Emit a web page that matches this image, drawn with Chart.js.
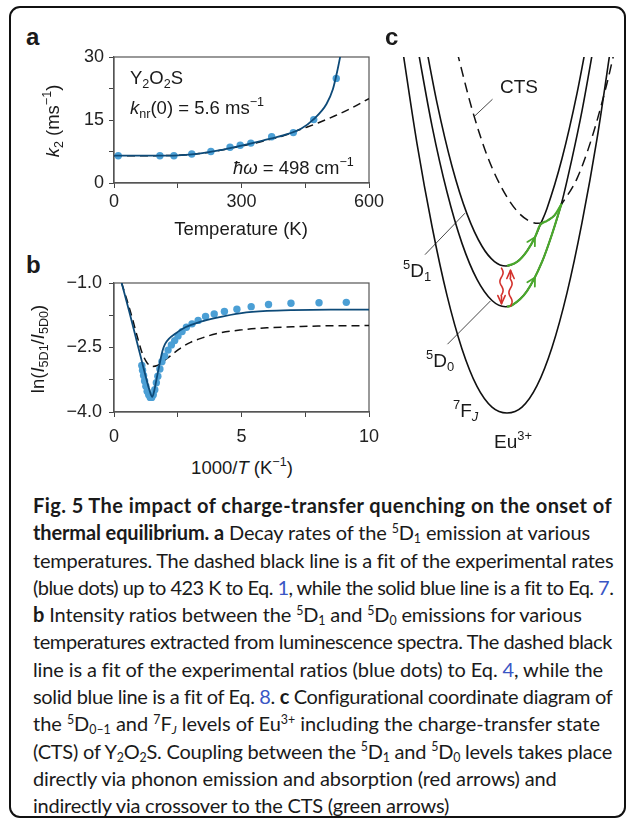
<!DOCTYPE html>
<html>
<head>
<meta charset="utf-8">
<script src="https://cdn.jsdelivr.net/npm/chart.js@4.4.1/dist/chart.umd.min.js"></script>
<style>
  body { margin:0; width:627px; height:827px; position:relative; overflow:hidden; background:#fff;
         font-family:"Liberation Sans", Arial, sans-serif; color:#1a1a1a; }
  .box { position:absolute; left:9px; top:6px; width:613px; height:808px; border:2px solid #111; border-radius:11px; }
  canvas { position:absolute; }
  .t { position:absolute; white-space:nowrap; font-size:18.5px; line-height:1; }
  .c19 { font-size:19px; }
  .lbl { position:absolute; font-weight:bold; font-size:24px; line-height:1; }
  .t sub, .t sup { font-size:0.68em; position:relative; vertical-align:baseline; line-height:0; }
  .t sup { top:-0.6em; }
  .t sub { top:0.3em; }
  .rot { transform:translate(-50%,-50%) rotate(-90deg); }
  .ctr { transform:translateX(-50%); }
  #cap { position:absolute; left:33px; top:492px; font-family:Lato, "Open Sans", sans-serif; font-size:20px; line-height:27.3px; color:#1a1a1a; }
  #cap .ln { width:max-content; white-space:nowrap; }
  #cap sub, #cap sup { font-size:0.62em; position:relative; vertical-align:baseline; line-height:0; }
  #cap sup { top:-0.6em; }
  #cap sub { top:0.25em; }
  .lk { color:#3a56c4; }
</style>
</head>
<body>
<div class="box"></div>

<canvas id="ca" width="340" height="168" style="left:50px;top:45px"></canvas>
<canvas id="cb" width="340" height="172" style="left:50px;top:270px"></canvas>
<canvas id="cc" width="247" height="440" style="left:380px;top:30px"></canvas>

<!-- panel labels and axis titles -->
<div class="lbl" style="left:26px;top:25px">a</div>
<div class="lbl" style="left:26px;top:253px">b</div>
<div class="lbl" style="left:385px;top:25px">c</div>

<div class="t" style="left:130px;top:69px">Y<sub>2</sub>O<sub>2</sub>S</div>
<div class="t" style="left:130px;top:99px"><i>k</i><sub>nr</sub>(0) = 5.6 ms<sup>−1</sup></div>
<div class="t" style="left:233px;top:159px"><i>ħω</i> = 498 cm<sup>−1</sup></div>
<div class="t ctr" style="left:241px;top:220px">Temperature (K)</div>
<div class="t rot" style="left:53px;top:121px"><i>k</i><sub>2</sub> (ms<sup>−1</sup>)</div>

<div class="t ctr" style="left:242px;top:459px">1000/<i>T</i> (K<sup>−1</sup>)</div>
<div class="t rot" style="left:38px;top:349px">ln(<i>I</i><sub>5D1</sub>/<i>I</i><sub>5D0</sub>)</div>

<div class="t c19" style="left:500px;top:77px">CTS</div>
<div class="t c19" style="left:403px;top:261px"><sup>5</sup>D<sub>1</sub></div>
<div class="t c19" style="left:426px;top:351px"><sup>5</sup>D<sub>0</sub></div>
<div class="t c19" style="left:453px;top:401px"><sup>7</sup>F<sub><i>J</i></sub></div>
<div class="t c19" style="left:494px;top:432px">Eu<sup>3+</sup></div>

<div id="cap">
<div class="ln" data-r="612"><b>Fig. 5 The impact of charge-transfer quenching on the onset of</b></div>
<div class="ln" data-r="590"><b>thermal equilibrium. a</b> Decay rates of the <sup>5</sup>D<sub>1</sub> emission at various</div>
<div class="ln" data-r="613">temperatures. The dashed black line is a fit of the experimental rates</div>
<div class="ln" data-r="613">(blue dots) up to 423 K to Eq. <span class="lk">1</span>, while the solid blue line is a fit to Eq. <span class="lk">7</span>.</div>
<div class="ln" data-r="582"><b>b</b> Intensity ratios between the <sup>5</sup>D<sub>1</sub> and <sup>5</sup>D<sub>0</sub> emissions for various</div>
<div class="ln" data-r="612">temperatures extracted from luminescence spectra. The dashed black</div>
<div class="ln" data-r="603">line is a fit of the experimental ratios (blue dots) to Eq. <span class="lk">4</span>, while the</div>
<div class="ln" data-r="612">solid blue line is a fit of Eq. <span class="lk">8</span>. <b>c</b> Configurational coordinate diagram of</div>
<div class="ln" data-r="600">the <sup>5</sup>D<sub>0–1</sub> and <sup>7</sup>F<sub><i>J</i></sub> levels of Eu<sup>3+</sup> including the charge-transfer state</div>
<div class="ln" data-r="612">(CTS) of Y<sub>2</sub>O<sub>2</sub>S. Coupling between the <sup>5</sup>D<sub>1</sub> and <sup>5</sup>D<sub>0</sub> levels takes place</div>
<div class="ln" data-r="557">directly via phonon emission and absorption (red arrows) and</div>
<div class="ln" data-r="449">indirectly via crossover to the CTS (green arrows)</div>
</div>

<script>
// --- panel a : decay rate k2 vs temperature ---
const tempPts = [10, 108, 141, 183, 228, 273, 297, 322, 371, 422, 470, 523]
const k2Pts = [6.5, 6.5, 6.5, 6.9, 7.5, 8.5, 9.0, 9.5, 11.0, 12.0, 15.1, 24.9]
const eq7T = [0, 50, 100, 150, 200, 250, 300, 350, 400, 440, 470, 500, 515, 525, 535]
const eq7K = [6.5, 6.5, 6.5, 6.6, 7.0, 7.8, 8.9, 10.1, 11.4, 12.9, 15.2, 18.8, 22.3, 26.5, 31.5]
const eq1T = [0, 100, 200, 300, 400, 440, 480, 520, 560, 600]
const eq1K = [6.5, 6.5, 7.0, 8.8, 11.3, 12.8, 14.3, 16.0, 17.9, 20.1]

// --- panel b : ln(I5D1/I5D0) vs 1000/T ---
const invT = [9.11, 8.04, 6.94, 6.06, 5.38, 4.82, 4.33, 3.93, 3.59, 3.30, 3.06, 2.84, 2.67, 2.51, 2.38, 2.25, 2.12, 1.99, 1.88, 1.80, 1.72, 1.66, 1.60, 1.54, 1.48, 1.42, 1.36, 1.30, 1.25, 1.20, 1.16, 1.12, 1.09]
const lnRatio = [-1.45, -1.46, -1.47, -1.50, -1.55, -1.61, -1.66, -1.72, -1.78, -1.87, -1.95, -2.03, -2.13, -2.23, -2.34, -2.44, -2.56, -2.70, -2.83, -3.00, -3.17, -3.32, -3.48, -3.60, -3.66, -3.66, -3.60, -3.52, -3.40, -3.28, -3.15, -3.03, -2.92]
const eq8X = [0.30, 0.6, 0.9, 1.1, 1.25, 1.35, 1.45, 1.5, 1.58, 1.68, 1.8, 1.9, 2.0, 2.15, 2.4, 2.8, 3.4, 4.0, 5.0, 6.0, 7.0, 8.5, 10]
const eq8Y = [-1.0, -1.67, -2.37, -2.84, -3.19, -3.41, -3.60, -3.65, -3.50, -3.20, -2.85, -2.58, -2.42, -2.30, -2.18, -2.03, -1.90, -1.81, -1.70, -1.65, -1.63, -1.62, -1.62]
const eq4X = [0.3, 0.5, 0.7, 0.9, 1.1, 1.3, 1.5, 1.7, 1.9, 2.2, 2.6, 3.0, 3.5, 4.0, 5.0, 6.0, 7.0, 8.0, 10]
const eq4Y = [-1.0, -1.38, -1.78, -2.22, -2.62, -2.86, -2.94, -2.92, -2.84, -2.70, -2.52, -2.38, -2.27, -2.18, -2.09, -2.04, -2.02, -2.00, -1.99]

// --- panel c : configurational coordinate diagram (Q, energy) ---
const q7F = [-2.1, -1.8, -1.5, -1.2, -0.9, -0.6, -0.3, 0, 0.3, 0.6, 0.9, 1.2, 1.5, 1.8, 2.1]
const e7F = [10.31, 7.62, 5.35, 3.45, 1.98, 0.95, 0.38, 0.22, 0.38, 0.97, 2.02, 3.52, 5.45, 7.75, 10.5]
const q5D0 = [-1.8, -1.5, -1.2, -0.9, -0.6, -0.3, -0.03, 0.1, 0.4, 0.7, 0.9, 1.09, 1.3, 1.5, 1.75]
const e5D0 = [10.35, 8.11, 6.29, 4.88, 3.89, 3.31, 3.14, 3.18, 3.57, 4.37, 5.13, 5.98, 7.21, 8.52, 10.43]
const q5D1 = [-1.7, -1.4, -1.1, -0.8, -0.5, -0.25, -0.02, 0.2, 0.4, 0.56, 0.66, 0.8, 1.1, 1.4, 1.65]
const e5D1 = [10.89, 8.74, 7.00, 5.69, 4.80, 4.38, 4.26, 4.37, 4.67, 5.05, 5.37, 5.84, 7.21, 9.00, 10.81]
const qCTS = [-1.0, -0.7, -0.4, -0.1, 0.2, 0.45, 0.62, 0.8, 0.95, 1.09, 1.4, 1.7, 2.0, 2.2]
const eCTS = [10.15, 8.57, 7.30, 6.39, 5.77, 5.49, 5.43, 5.50, 5.65, 5.95, 6.66, 7.79, 9.28, 10.47]
const qGreenUp = [0.0, 0.2, 0.4, 0.56, 0.66, 0.8, 0.95, 1.09]
const eGreenUp = [4.26, 4.37, 4.67, 5.05, 5.38, 5.50, 5.65, 5.96]
const qGreenLow = [0.0, 0.1, 0.4, 0.7, 0.9, 1.09]
const eGreenLow = [3.14, 3.18, 3.57, 4.37, 5.13, 5.97]
// leader lines [q0, e0, q1, e1]
const leaders = [[-0.29, 8.84, -0.66, 8.36], [-0.84, 5.71, -1.64, 4.57], [-0.33, 3.30, -1.19, 2.11]]
// red phonon arrows [qFrom, eFrom, qTip, eTip]
const redArrows = [[-0.11, 4.20, -0.11, 3.22], [0.07, 3.16, 0.07, 4.14]]
// green arrow heads [qBack, eBack, qTip, eTip]
const greenHeads = [[0.44, 4.76, 0.56, 5.05], [0.44, 3.65, 0.56, 3.94]]

const BLUE_DOT = '#4b9fd5'
const BLUE_LINE = '#0d4a78'
const GREEN = '#4aa82c'
const RED = '#d3302b'
const tickFont = { family: 'Liberation Sans', size: 18 }

function pts(xs, ys) {
  return xs.map((x, i) => ({ x: x, y: ys[i] }))
}

function curve(xs, ys, color, width, dash) {
  return {
    data: pts(xs, ys), showLine: true, pointRadius: 0, borderColor: color, borderWidth: width,
    borderDash: dash || [], cubicInterpolationMode: 'monotone', capBezierPoints: false, fill: false
  }
}

// box around the plotting area
const frame = {
  id: 'frame',
  beforeDatasetsDraw(chart) {
    const { ctx, chartArea: a } = chart
    ctx.save()
    ctx.strokeStyle = '#555'
    ctx.lineWidth = 1.2
    ctx.strokeRect(a.left, a.top, a.right - a.left, a.bottom - a.top)
    ctx.restore()
  }
}

function axis(min, max, step, labels, fmt, size, pad, isX) {
  return {
    type: 'linear', min: min, max: max,
    ticks: {
      stepSize: step, padding: pad, color: '#222', font: tickFont, maxRotation: 0, autoSkip: false,
      callback: v => {
        const r = Math.round(v * 100) / 100
        return labels.includes(r) ? fmt(r) : ''
      }
    },
    grid: { drawOnChartArea: false, tickLength: 5, color: '#444' },
    border: { color: '#555', width: 1.2 },
    afterFit: s => {
      if (isX) s.height = size; else s.width = size
      s.paddingLeft = 0; s.paddingRight = 0; s.paddingTop = 0; s.paddingBottom = 0
    }
  }
}

Chart.defaults.animation = false

new Chart(document.getElementById('ca'), {
  type: 'scatter',
  data: {
    datasets: [
      curve(eq7T, eq7K, BLUE_LINE, 1.8),
      { data: pts(tempPts, k2Pts), pointRadius: 3.7, pointBackgroundColor: BLUE_DOT, pointBorderWidth: 0 },
      curve(eq1T, eq1K, '#111', 1.5, [8, 5])
    ]
  },
  options: {
    responsive: false,
    layout: { padding: { top: 12, right: 21, left: 0, bottom: 0 } },
    plugins: { legend: { display: false }, tooltip: { enabled: false } },
    scales: {
      x: axis(0, 600, 150, [0, 300, 600], v => v, 30, 3, true),
      y: axis(0, 30, 7.5, [0, 15, 30], v => v, 64, 5, false)
    }
  },
  plugins: [frame]
})

const minus = v => v.toFixed(1).replace('-', '−')

new Chart(document.getElementById('cb'), {
  type: 'scatter',
  data: {
    datasets: [
      curve(eq8X, eq8Y, BLUE_LINE, 1.8),
      { data: pts(invT, lnRatio), pointRadius: 3.7, pointBackgroundColor: BLUE_DOT, pointBorderWidth: 0 },
      curve(eq4X, eq4Y, '#111', 1.5, [8, 5])
    ]
  },
  options: {
    responsive: false,
    layout: { padding: { top: 13, right: 21, left: 0, bottom: 0 } },
    plugins: { legend: { display: false }, tooltip: { enabled: false } },
    scales: {
      x: axis(0, 10, 2.5, [0, 5, 10], v => v, 30, 9, true),
      y: axis(-4, -1, 0.75, [-4, -2.5, -1], minus, 64, 7, false)
    }
  },
  plugins: [frame]
})

// red wavy arrows and green arrow heads, placed through the chart scales
function head(ctx, x, y, ang, len, spread) {
  ctx.beginPath()
  ctx.moveTo(x - len * Math.cos(ang - spread), y - len * Math.sin(ang - spread))
  ctx.lineTo(x, y)
  ctx.lineTo(x - len * Math.cos(ang + spread), y - len * Math.sin(ang + spread))
  ctx.stroke()
}

const arrows = {
  id: 'arrows',
  afterDatasetsDraw(chart) {
    const { ctx, scales: { x, y } } = chart
    ctx.save()
    ctx.lineCap = 'round'
    ctx.lineJoin = 'round'
    ctx.strokeStyle = RED
    ctx.lineWidth = 1.6
    redArrows.forEach(a => {
      const x0 = x.getPixelForValue(a[0]), y0 = y.getPixelForValue(a[1])
      const x1 = x.getPixelForValue(a[2]), y1 = y.getPixelForValue(a[3])
      ctx.beginPath()
      for (let i = 0; i <= 30; i++) {
        const t = i / 30
        const amp = t < 0.8 ? 1.6 : 0
        const xx = x0 + (x1 - x0) * t + Math.sin(t * Math.PI * 4) * amp
        const yy = y0 + (y1 - y0) * t
        if (i === 0) ctx.moveTo(xx, yy); else ctx.lineTo(xx, yy)
      }
      ctx.stroke()
      head(ctx, x1, y1, Math.atan2(y1 - y0, x1 - x0), 9, 0.42)
    })
    ctx.strokeStyle = GREEN
    ctx.lineWidth = 1.8
    greenHeads.forEach(g => {
      const x0 = x.getPixelForValue(g[0]), y0 = y.getPixelForValue(g[1])
      const x1 = x.getPixelForValue(g[2]), y1 = y.getPixelForValue(g[3])
      head(ctx, x1, y1, Math.atan2(y1 - y0, x1 - x0), 9, 0.5)
    })
    ctx.restore()
  }
}

const leaderSets = leaders.map(l => curve([l[0], l[2]], [l[1], l[3]], '#333', 0.9))

new Chart(document.getElementById('cc'), {
  type: 'scatter',
  data: {
    datasets: [
      curve(qGreenUp, eGreenUp, GREEN, 2.2),
      curve(qGreenLow, eGreenLow, GREEN, 2.2),
      curve(q5D1, e5D1, '#111', 1.6),
      curve(q5D0, e5D0, '#111', 1.6),
      curve(q7F, e7F, '#111', 1.6),
      curve(qCTS, eCTS, '#111', 1.5, [10, 6])
    ].concat(leaderSets)
  },
  options: {
    responsive: false,
    layout: { padding: { left: 17, right: 10, top: 27, bottom: 49 } },
    plugins: { legend: { display: false }, tooltip: { enabled: false } },
    scales: {
      x: { type: 'linear', display: false, min: -2.2, max: 2.2 },
      y: { type: 'linear', display: false, min: 0, max: 10 }
    }
  },
  plugins: [arrows]
})

// stretch each caption line to the width it has in the figure
document.querySelectorAll('#cap .ln').forEach(el => {
  const w = el.getBoundingClientRect().width
  const n = el.textContent.length
  el.style.letterSpacing = ((+el.dataset.r - 33 - w) / n) + 'px'
})
</script>
</body>
</html>
